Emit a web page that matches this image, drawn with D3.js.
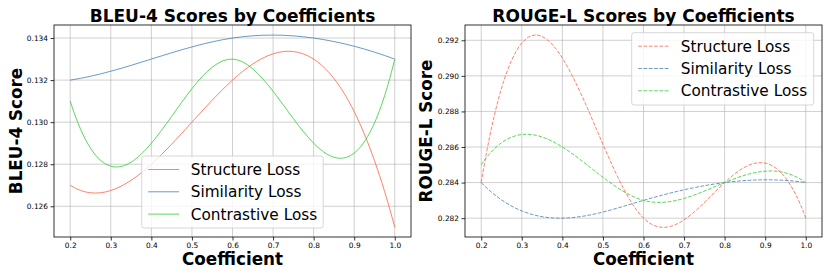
<!DOCTYPE html>
<html><head><meta charset="utf-8">
<script src="https://cdn.jsdelivr.net/npm/d3@7"></script>
<style>body{margin:0;background:#fff}svg{display:block}text{font-family:"DejaVu Sans",sans-serif}</style>
</head><body>
<svg id="c" width="830" height="277"></svg>
<script>
const coefficients = [0.2, 0.4, 0.6, 0.8, 1.0];
const seriesNames = ["Structure Loss", "Similarity Loss", "Contrastive Loss"];
const seriesColors = ["tomato", "steelblue", "limegreen"];
const bleuStructure = [0.127, 0.128, 0.132, 0.133, 0.125];
const bleuSimilarity = [0.132, 0.133, 0.134, 0.134, 0.133];
const bleuContrastive = [0.131, 0.129, 0.133, 0.129, 0.133];
const rougeStructure = [0.284, 0.291, 0.282, 0.284, 0.282];
const rougeSimilarity = [0.284, 0.282, 0.283, 0.284, 0.284];
const rougeContrastive = [0.285, 0.286, 0.283, 0.284, 0.284];
const xTicks = [0.2, 0.3, 0.4, 0.5, 0.6, 0.7, 0.8, 0.9, 1.0];
const bleuTicks = [0.126, 0.128, 0.130, 0.132, 0.134];
const rougeTicks = [0.282, 0.284, 0.286, 0.288, 0.290, 0.292];

// cubic spline with not-a-knot end conditions as a d3 curve
function curveNotAKnot(context) {
  let xs = [], ys = [];
  return {
    areaStart() {}, areaEnd() {},
    lineStart() { xs = []; ys = []; },
    point(x, y) { xs.push(+x); ys.push(+y); },
    lineEnd() {
      const n = xs.length;
      if (n < 4) { xs.forEach((x, i) => i ? context.lineTo(x, ys[i]) : context.moveTo(x, ys[i])); return; }
      const h = []; for (let i = 0; i < n - 1; i++) h.push(xs[i + 1] - xs[i]);
      const A = [], b = [];
      for (let i = 0; i < n; i++) { A.push(new Array(n).fill(0)); b.push(0); }
      A[0][0] = h[1]; A[0][1] = -(h[0] + h[1]); A[0][2] = h[0];
      for (let i = 1; i < n - 1; i++) {
        A[i][i - 1] = h[i - 1]; A[i][i] = 2 * (h[i - 1] + h[i]); A[i][i + 1] = h[i];
        b[i] = 6 * ((ys[i + 1] - ys[i]) / h[i] - (ys[i] - ys[i - 1]) / h[i - 1]);
      }
      A[n - 1][n - 3] = h[n - 2]; A[n - 1][n - 2] = -(h[n - 3] + h[n - 2]); A[n - 1][n - 1] = h[n - 3];
      for (let c = 0; c < n; c++) {
        let p = c; for (let r = c + 1; r < n; r++) if (Math.abs(A[r][c]) > Math.abs(A[p][c])) p = r;
        [A[c], A[p]] = [A[p], A[c]]; [b[c], b[p]] = [b[p], b[c]];
        for (let r = c + 1; r < n; r++) {
          const f = A[r][c] / A[c][c];
          for (let k = c; k < n; k++) A[r][k] -= f * A[c][k];
          b[r] -= f * b[c];
        }
      }
      const M = new Array(n).fill(0);
      for (let r = n - 1; r >= 0; r--) {
        let s = b[r]; for (let k = r + 1; k < n; k++) s -= A[r][k] * M[k];
        M[r] = s / A[r][r];
      }
      context.moveTo(xs[0], ys[0]);
      for (let i = 0; i < n - 1; i++) {
        const d = (ys[i + 1] - ys[i]) / h[i];
        const m0 = d - h[i] * (2 * M[i] + M[i + 1]) / 6;
        const m1 = d + h[i] * (M[i] + 2 * M[i + 1]) / 6;
        context.bezierCurveTo(xs[i] + h[i] / 3, ys[i] + m0 * h[i] / 3,
                              xs[i + 1] - h[i] / 3, ys[i + 1] - m1 * h[i] / 3,
                              xs[i + 1], ys[i + 1]);
      }
    }
  };
}

const svg = d3.select("#c");

function panel(opt) {
  const g = svg.append("g");
  const x = d3.scaleLinear().domain([0.16, 1.04]).range([opt.left, opt.right]);
  const y = d3.scaleLinear().domain(opt.yDomain).range([opt.bottom, opt.top]);
  g.append("g").selectAll("line").data(xTicks).join("line")
    .attr("x1", d => x(d)).attr("x2", d => x(d)).attr("y1", opt.top).attr("y2", opt.bottom)
    .attr("stroke", "#b0b0b0").attr("stroke-opacity", 0.6).attr("stroke-width", 1);
  g.append("g").selectAll("line").data(opt.yTicks).join("line")
    .attr("y1", d => y(d)).attr("y2", d => y(d)).attr("x1", opt.left).attr("x2", opt.right)
    .attr("stroke", "#b0b0b0").attr("stroke-opacity", 0.6).attr("stroke-width", 1);
  const xa = g.append("g").attr("transform", `translate(0,${opt.bottom})`)
    .call(d3.axisBottom(x).tickValues(xTicks).tickFormat(d3.format(".1f")).tickSize(3.5).tickPadding(2));
  const ya = g.append("g").attr("transform", `translate(${opt.left},0)`)
    .call(d3.axisLeft(y).tickValues(opt.yTicks).tickFormat(d3.format(".3f")).tickSize(3.5).tickPadding(2.5));
  [xa, ya].forEach(a => {
    a.select(".domain").remove();
    a.selectAll("text").attr("font-size", 7.4).attr("font-family", "DejaVu Sans").attr("fill", "#000");
    a.selectAll("line").attr("stroke", "#000").attr("stroke-width", 0.8);
  });
  const line = d3.line().x((d, i) => x(coefficients[i])).y(d => y(d)).curve(curveNotAKnot);
  opt.series.forEach((s, i) => {
    g.append("path").attr("d", line(s)).attr("fill", "none")
      .attr("stroke", seriesColors[i]).attr("stroke-opacity", 0.8).attr("stroke-width", 1)
      .attr("stroke-dasharray", opt.dashed ? "3.7,1.6" : null);
  });
  g.append("rect").attr("x", opt.left).attr("y", opt.top)
    .attr("width", opt.right - opt.left).attr("height", opt.bottom - opt.top)
    .attr("fill", "none").attr("stroke", "#000").attr("stroke-width", 0.8);
  const cx = (opt.left + opt.right) / 2;
  g.append("text").attr("x", cx).attr("y", 21.5).attr("text-anchor", "middle")
    .attr("font-size", 17).attr("font-weight", "bold").text(opt.title);
  g.append("text").attr("x", cx).attr("y", 264.5).attr("text-anchor", "middle")
    .attr("font-size", 16.8).attr("font-weight", "bold").text("Coefficient");
  g.append("text").attr("transform", `translate(${opt.ylabX},${(opt.top + opt.bottom) / 2}) rotate(-90)`)
    .attr("text-anchor", "middle").attr("font-size", 16.8).attr("font-weight", "bold").text(opt.ylabel);
  const L = opt.legend;
  const lg = g.append("g").attr("transform", `translate(${L.x},${L.y})`);
  lg.append("rect").attr("width", L.w).attr("height", L.h).attr("rx", 2.5)
    .attr("fill", "#fff").attr("fill-opacity", 0.8).attr("stroke", "#cccccc").attr("stroke-width", 0.8);
  seriesNames.forEach((name, i) => {
    const yy = 13.5 + i * 22.3;
    lg.append("line").attr("x1", 6.5).attr("x2", 37.5).attr("y1", yy).attr("y2", yy)
      .attr("stroke", seriesColors[i]).attr("stroke-opacity", 0.8).attr("stroke-width", 1)
      .attr("stroke-dasharray", opt.dashed ? "3.7,1.6" : null);
    lg.append("text").attr("x", 49).attr("y", yy + 5.4).attr("font-size", 15.3).text(name);
  });
}

panel({
  left: 54, right: 411, top: 25, bottom: 237,
  yDomain: [0.12454, 0.13462], yTicks: bleuTicks,
  series: [bleuStructure, bleuSimilarity, bleuContrastive],
  title: "BLEU-4 Scores by Coefficients", ylabel: "BLEU-4 Score", ylabX: 22,
  legend: { x: 141.7, y: 156, w: 181.5, h: 72 }, dashed: false
});
panel({
  left: 465, right: 822, top: 25, bottom: 237,
  yDomain: [0.28094, 0.29286], yTicks: rougeTicks,
  series: [rougeStructure, rougeSimilarity, rougeContrastive],
  title: "ROUGE-L Scores by Coefficients", ylabel: "ROUGE-L Score", ylabX: 432,
  legend: { x: 631.7, y: 32.7, w: 182, h: 72.3 }, dashed: true
});
</script>
</body></html>
